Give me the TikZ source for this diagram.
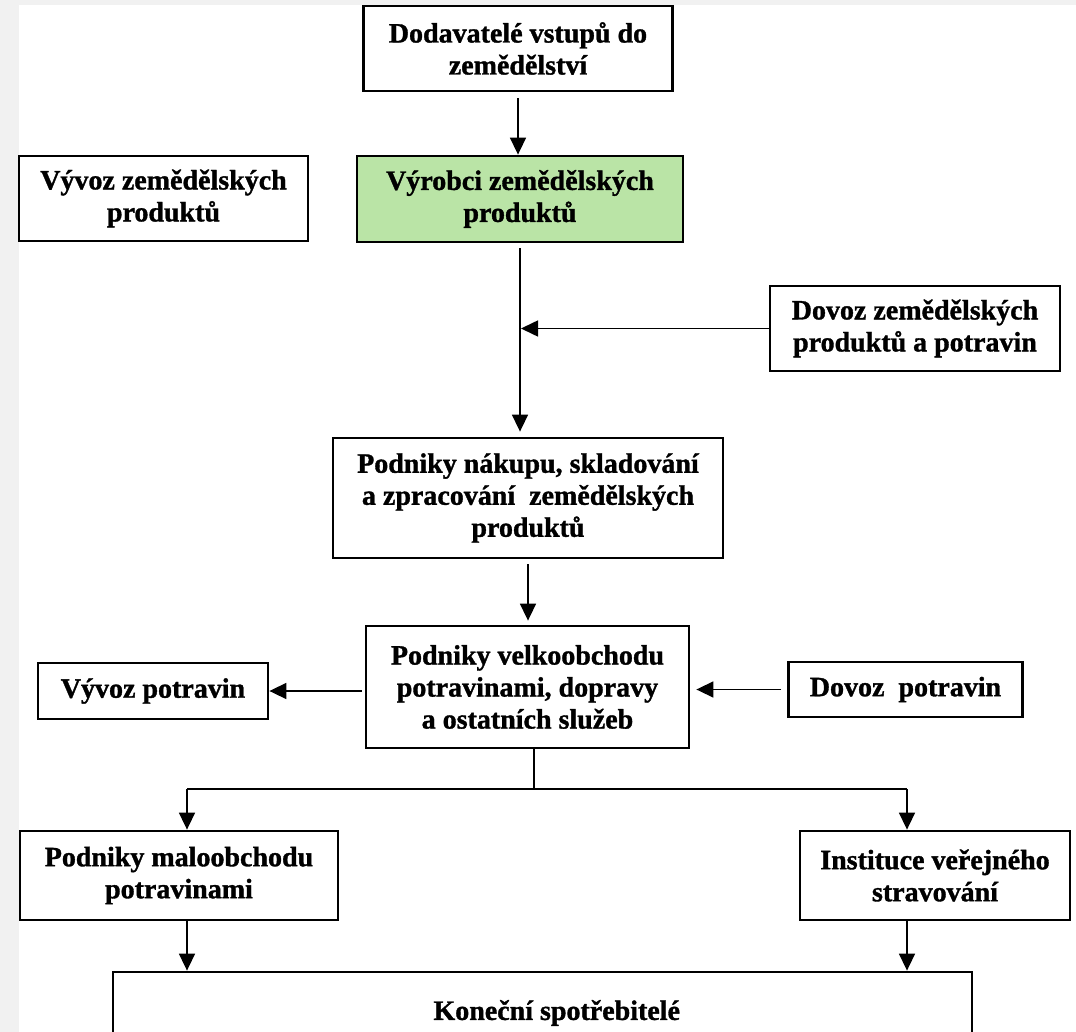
\documentclass[tikz,border=0pt]{standalone}
\usepackage{fontspec}
\setmainfont{Liberation Serif}[BoldFeatures={FakeBold=1.2}]
\usetikzlibrary{arrows.meta}
\definecolor{prodgreen}{RGB}{186,228,166}
\definecolor{pagegray}{RGB}{241,241,241}
\tikzset{mybox/.style={draw, line width=2.8pt, inner sep=0pt, align=center, fill=white, font=\bfseries\fontsize{28pt}{32pt}\selectfont}}
\tikzset{myboxProd/.style={mybox, fill=prodgreen}}
\tikzset{flow/.style={line width=1.6pt, -{Triangle[length=17pt,width=16pt]}}}
\tikzset{link/.style={line width=1.6pt}}

\begin{document}
\begin{tikzpicture}[x=1pt, y=-1pt]
\path[use as bounding box, clip] (0, 0) rectangle (1076, 1032);
\fill[pagegray] (0, 0) rectangle (1076, 1032);
\fill[white] (19, 5) rectangle (1076, 1032);

\node[mybox, minimum width=309pt, minimum height=85pt] (supplier) at (518, 48.5) {Dodavatelé vstupů do\\zemědělství};
\node[myboxProd, minimum width=326pt, minimum height=86pt] (producer) at (520, 199) {Výrobci zemědělských\\produktů};
\node[mybox, minimum width=289pt, minimum height=85pt] (exportAgri) at (163.5, 198.5) {Vývoz zemědělských\\produktů};
\node[mybox, minimum width=290pt, minimum height=85pt] (importAgri) at (915, 328.5) {Dovoz zemědělských\\produktů a potravin};

\node[mybox, minimum width=390pt, minimum height=120pt] (processing) at (528, 498) {Podniky nákupu, skladování\\a zpracování~ zemědělských\\produktů};
\node[mybox, minimum width=323pt, minimum height=122pt] (wholesale) at (527.5, 687) {Podniky velkoobchodu\\potravinami, dopravy\\a ostatních služeb};
\node[mybox, minimum width=230pt, minimum height=56pt] (exportFood) at (153, 691) {Vývoz potravin};
\node[mybox, minimum width=234pt, minimum height=55pt] (importFood) at (905.5, 689.5) {Dovoz~ potravin};

\node[mybox, minimum width=318pt, minimum height=89pt] (retail) at (179, 875.5) {Podniky maloobchodu\\potravinami};
\node[mybox, minimum width=270pt, minimum height=89pt] (catering) at (935, 875.5) {Instituce veřejného\\stravování};
\node[mybox, minimum width=859pt, minimum height=82pt] (consumer) at (542.5, 1013) {\hspace*{28.5pt}Koneční spotřebitelé};

\coordinate (joinAgri) at (producer.south |- importAgri.west);
\coordinate (fork) at (534, 789);
\coordinate (forkRetail) at (187, 789);
\coordinate (forkCatering) at (907, 789);

\draw[flow, shorten <=6pt] (supplier.south) to (supplier.south |- producer.north);
\draw[flow, shorten <=5pt, shorten >=5pt] (producer.south) to (producer.south |- processing.north);
\draw[flow, shorten >=1pt] (importAgri.west) to (joinAgri);
\draw[flow, shorten <=5pt, shorten >=4pt] (processing.south) to (processing.south |- wholesale.north);
\draw[flow, shorten <=3pt] (wholesale.west |- exportFood.east) to (exportFood.east);
\draw[flow, shorten <=6pt, shorten >=6pt] (importFood.west) to (importFood.west -| wholesale.east);

\draw[link] (fork |- wholesale.south) to (fork);
\draw[link] (forkRetail) to (forkCatering);
\draw[flow] (forkRetail) to (forkRetail |- retail.north);
\draw[flow] (forkCatering) to (forkCatering |- catering.north);
\draw[flow] (forkRetail |- retail.south) to (forkRetail |- consumer.north);
\draw[flow] (forkCatering |- catering.south) to (forkCatering |- consumer.north);

\end{tikzpicture}
\end{document}
